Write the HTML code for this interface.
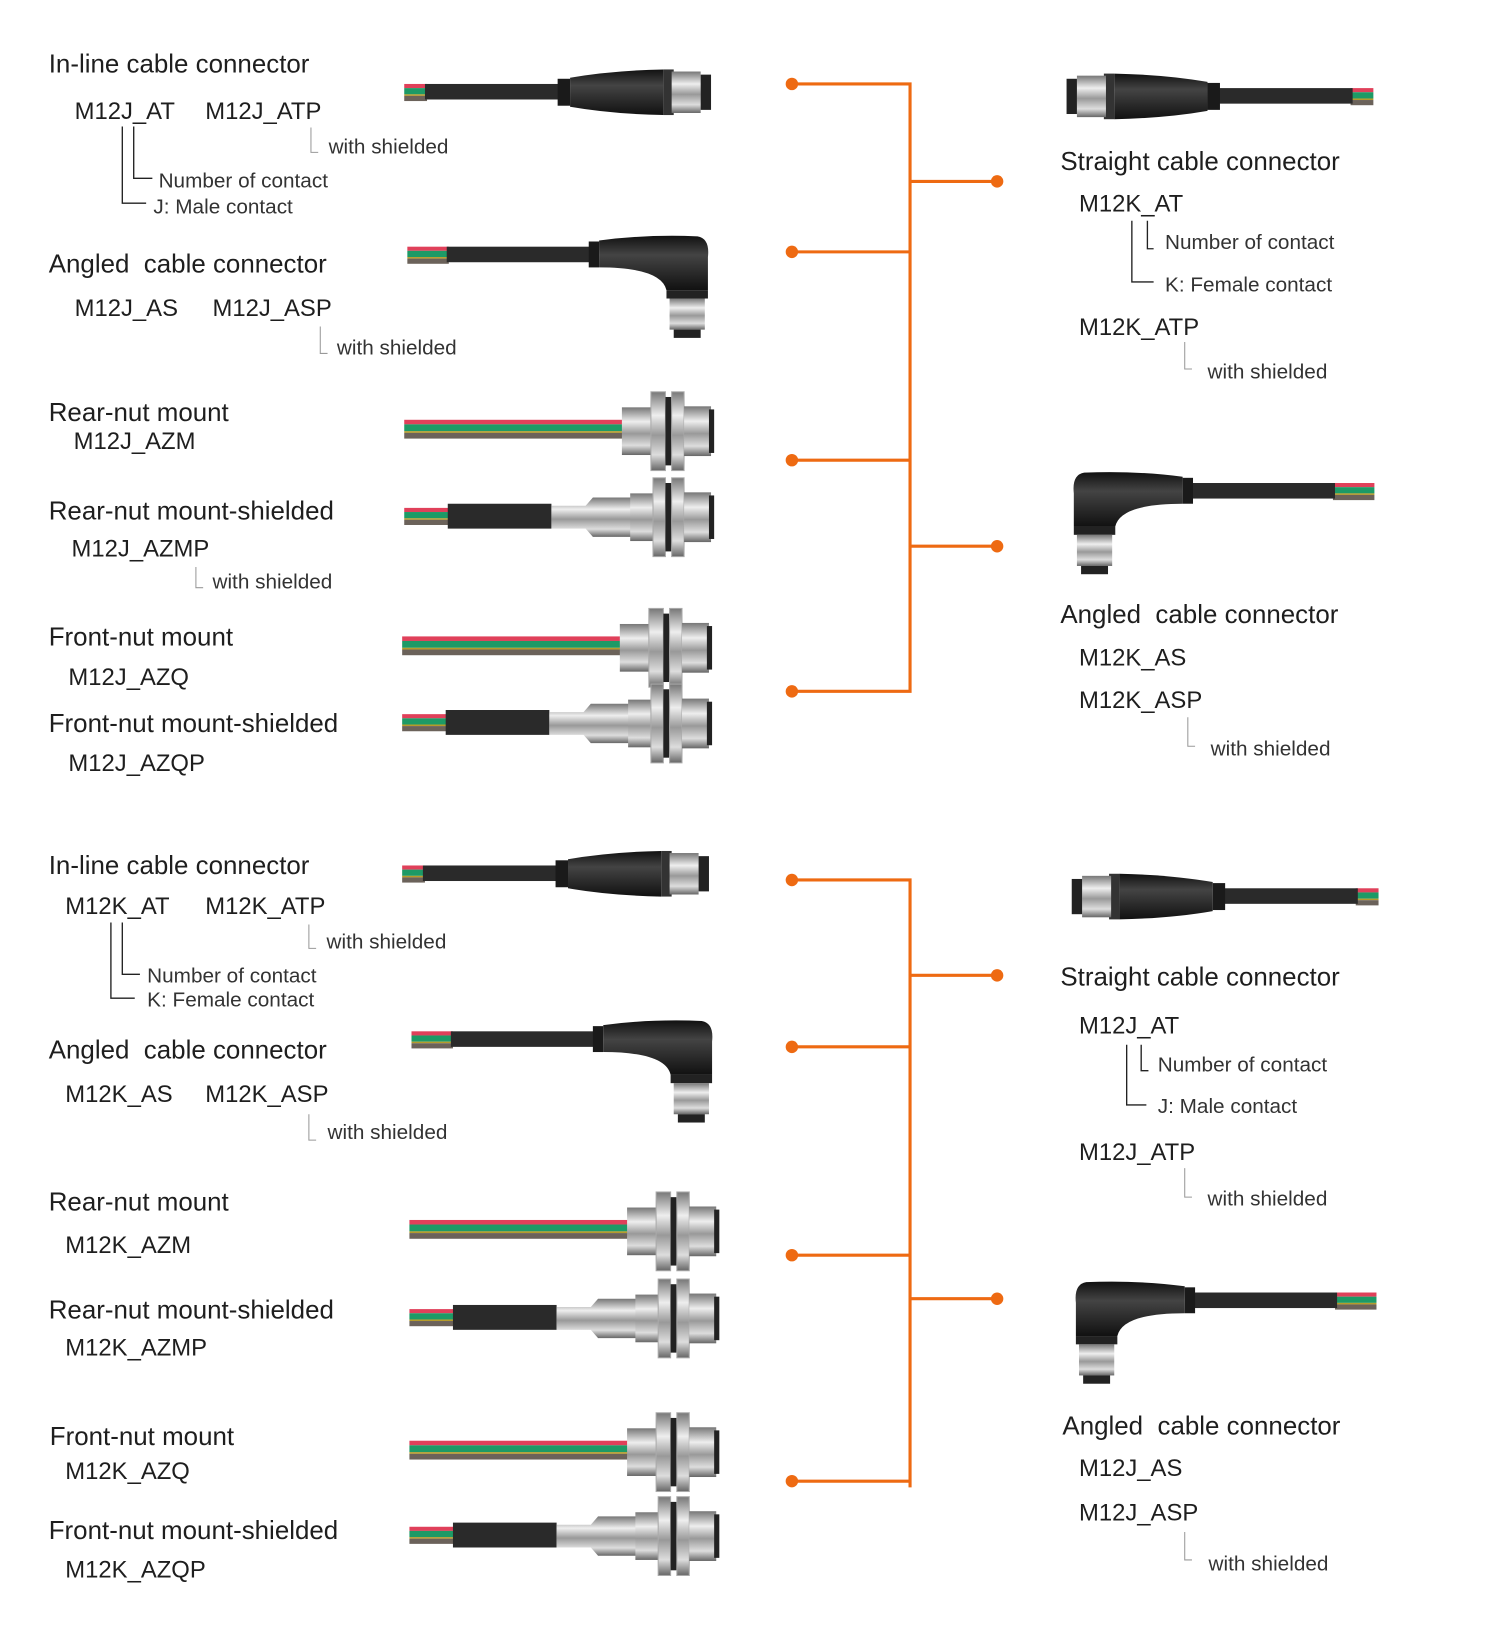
<!DOCTYPE html>
<html><head><meta charset="utf-8"><style>
html,body{margin:0;padding:0;background:#fff;width:1488px;height:1625px;overflow:hidden}
#w{position:absolute;left:0;top:0;width:1440px;height:1573px;transform:scale(1.0365);transform-origin:0 0;font-family:"Liberation Sans",sans-serif;color:#1e1e1e}
.t{position:absolute;white-space:nowrap;line-height:1}
.h{font-size:25px}
.m{font-size:23px}
.s{font-size:20px;color:#333}
svg{position:absolute;left:0;top:0}
</style></head><body><div id="w">
<svg width="1440" height="1573" viewBox="0 0 1440 1573">
<defs>
<linearGradient id="sil" x1="0" y1="0" x2="0" y2="1"><stop offset="0" stop-color="#777"/><stop offset=".3" stop-color="#eee"/><stop offset=".55" stop-color="#999"/><stop offset=".8" stop-color="#ddd"/><stop offset="1" stop-color="#666"/></linearGradient>
<linearGradient id="blk" x1="0" y1="0" x2="0" y2="1"><stop offset="0" stop-color="#111"/><stop offset=".35" stop-color="#444"/><stop offset="1" stop-color="#111"/></linearGradient>
<g id="stripes"><rect x="0" y="0" width="1" height="4" fill="#e0405a"/><rect x="0" y="4" width="1" height="6" fill="#1d9a66"/><rect x="0" y="10" width="1" height="1.5" fill="#b59b2a"/><rect x="0" y="11.5" width="1" height="5" fill="#6b625a"/></g>
<g id="str">
<use href="#stripes" transform="translate(0,15) scale(22,1)"/>
<rect x="20" y="15" width="130" height="15" fill="#2a2a2a"/>
<rect x="148" y="10" width="12" height="26" fill="#1a1a1a"/>
<path d="M160 9 Q200 2 250 1 L250 45 Q200 44 160 37 Z" fill="url(#blk)"/>
<rect x="250" y="1" width="10" height="44" fill="#333"/>
<rect x="258" y="3" width="28" height="40" fill="url(#sil)"/>
<rect x="286" y="6" width="10" height="34" fill="#222"/>
</g>
<g id="ang">
<use href="#stripes" transform="translate(0,10) scale(40,1)"/>
<rect x="38" y="10" width="140" height="15" fill="#2a2a2a"/>
<rect x="175" y="5" width="10" height="25" fill="#1a1a1a"/>
<path d="M185 4 Q230 -2 280 0 Q292 2 290 20 L290 52 L250 52 Q245 30 185 30 Z" fill="url(#blk)"/>
<rect x="250" y="52" width="40" height="8" fill="#222"/>
<rect x="253" y="60" width="34" height="30" fill="url(#sil)"/>
<rect x="257" y="90" width="26" height="8" fill="#222"/>
</g>
<g id="pan">
<use href="#stripes" transform="translate(0,30) scale(212,1.1)"/>
<rect x="210" y="18" width="28" height="46" fill="url(#sil)"/>
<rect x="238" y="3" width="14" height="76" fill="url(#sil)" stroke="#aaa"/>
<rect x="252" y="8" width="6" height="66" fill="#222"/>
<rect x="258" y="3" width="12" height="76" fill="url(#sil)" stroke="#aaa"/>
<rect x="270" y="17" width="26" height="48" fill="url(#sil)"/>
<rect x="294" y="20" width="5" height="42" fill="#222"/>
</g>
<g id="pans">
<use href="#stripes" transform="translate(0,32) scale(45,1)"/>
<rect x="42" y="28" width="100" height="24" fill="#2a2a2a"/>
<path d="M142 30 L175 30 L182 22 L220 22 L220 60 L182 60 L175 52 L142 52 Z" fill="url(#sil)"/>
<rect x="218" y="18" width="22" height="46" fill="url(#sil)"/>
<rect x="240" y="3" width="12" height="76" fill="url(#sil)" stroke="#aaa"/>
<rect x="252" y="8" width="6" height="66" fill="#222"/>
<rect x="258" y="3" width="12" height="76" fill="url(#sil)" stroke="#aaa"/>
<rect x="270" y="17" width="26" height="48" fill="url(#sil)"/>
<rect x="294" y="20" width="5" height="42" fill="#222"/>
</g>
</defs>

<use href="#str" transform="translate(390,66)"/>
<use href="#ang" transform="translate(393,228)"/>
<use href="#pan" transform="translate(390,375)"/>
<use href="#pans" transform="translate(390,458)"/>
<use href="#pan" transform="translate(388,584)"/>
<use href="#pans" transform="translate(388,657)"/>

<use href="#str" transform="translate(388,820)"/>
<use href="#ang" transform="translate(397,985)"/>
<use href="#pan" transform="translate(395,1147)"/>
<use href="#pans" transform="translate(395,1231)"/>
<use href="#pan" transform="translate(395,1360)"/>
<use href="#pans" transform="translate(395,1441)"/>

<use href="#str" transform="translate(1325,70) scale(-1,1)"/>
<use href="#ang" transform="translate(1326,456) scale(-1,1)"/>
<use href="#str" transform="translate(1330,842) scale(-1,1)"/>
<use href="#ang" transform="translate(1328,1237) scale(-1,1)"/>

<g stroke="#ee6a12" stroke-width="3" fill="none">
<path d="M764 81H878V667H764M764 243H878M764 444H878M878 175H962M878 527H962"/>
<path d="M764 849H878V1435M764 1010H878M764 1211H878M764 1429H878M878 941H962M878 1253H962"/>
</g>
<g fill="#ee6a12">
<circle cx="764" cy="81" r="6"/><circle cx="764" cy="243" r="6"/><circle cx="764" cy="444" r="6"/><circle cx="764" cy="667" r="6"/><circle cx="962" cy="175" r="6"/><circle cx="962" cy="527" r="6"/>
<circle cx="764" cy="849" r="6"/><circle cx="764" cy="1010" r="6"/><circle cx="764" cy="1211" r="6"/><circle cx="764" cy="1429" r="6"/><circle cx="962" cy="941" r="6"/><circle cx="962" cy="1253" r="6"/>
</g>
<g stroke="#222" stroke-width="1.3" fill="none">
<path d="M129 122V172H147M118 122V196H141"/>
<path d="M118 890V940H135M107 890V963H130"/>
<path d="M1107 213V240H1113M1092 213V272H1113"/>
<path d="M1101 1008V1033H1108M1087 1008V1066H1106"/>
</g>
<g stroke="#999" stroke-width="1" fill="none">
<path d="M300 123V147H307M309 315V341H316M189 547V567H196M298 892V915H305M298 1075V1100H305M1143 330V356H1150M1146 692V720H1153M1143 1127V1155H1150M1143 1478V1505H1150"/>
</g>
</svg>

<div class="t h" style="left:47px;top:50px">In-line cable connector</div>
<div class="t m" style="left:72px;top:96px">M12J_AT</div>
<div class="t m" style="left:198px;top:96px">M12J_ATP</div>
<div class="t s" style="left:317px;top:132px">with shielded</div>
<div class="t s" style="left:153px;top:165px">Number of contact</div>
<div class="t s" style="left:148px;top:190px">J: Male contact</div>
<div class="t h" style="left:47px;top:243px">Angled&nbsp; cable connector</div>
<div class="t m" style="left:72px;top:286px">M12J_AS</div>
<div class="t m" style="left:205px;top:286px">M12J_ASP</div>
<div class="t s" style="left:325px;top:326px">with shielded</div>
<div class="t h" style="left:47px;top:386px">Rear-nut mount</div>
<div class="t m" style="left:71px;top:414px">M12J_AZM</div>
<div class="t h" style="left:47px;top:481px">Rear-nut mount-shielded</div>
<div class="t m" style="left:69px;top:518px">M12J_AZMP</div>
<div class="t s" style="left:205px;top:552px">with shielded</div>
<div class="t h" style="left:47px;top:603px">Front-nut mount</div>
<div class="t m" style="left:66px;top:642px">M12J_AZQ</div>
<div class="t h" style="left:47px;top:686px">Front-nut mount-shielded</div>
<div class="t m" style="left:66px;top:725px">M12J_AZQP</div>

<div class="t h" style="left:1023px;top:144px">Straight cable connector</div>
<div class="t m" style="left:1041px;top:185px">M12K_AT</div>
<div class="t s" style="left:1124px;top:224px">Number of contact</div>
<div class="t s" style="left:1124px;top:265px">K: Female contact</div>
<div class="t m" style="left:1041px;top:304px">M12K_ATP</div>
<div class="t s" style="left:1165px;top:349px">with shielded</div>
<div class="t h" style="left:1023px;top:581px">Angled&nbsp; cable connector</div>
<div class="t m" style="left:1041px;top:623px">M12K_AS</div>
<div class="t m" style="left:1041px;top:664px">M12K_ASP</div>
<div class="t s" style="left:1168px;top:713px">with shielded</div>

<div class="t h" style="left:47px;top:823px">In-line cable connector</div>
<div class="t m" style="left:63px;top:863px">M12K_AT</div>
<div class="t m" style="left:198px;top:863px">M12K_ATP</div>
<div class="t s" style="left:315px;top:899px">with shielded</div>
<div class="t s" style="left:142px;top:932px">Number of contact</div>
<div class="t s" style="left:142px;top:955px">K: Female contact</div>
<div class="t h" style="left:47px;top:1001px">Angled&nbsp; cable connector</div>
<div class="t m" style="left:63px;top:1044px">M12K_AS</div>
<div class="t m" style="left:198px;top:1044px">M12K_ASP</div>
<div class="t s" style="left:316px;top:1083px">with shielded</div>
<div class="t h" style="left:47px;top:1148px">Rear-nut mount</div>
<div class="t m" style="left:63px;top:1190px">M12K_AZM</div>
<div class="t h" style="left:47px;top:1252px">Rear-nut mount-shielded</div>
<div class="t m" style="left:63px;top:1289px">M12K_AZMP</div>
<div class="t h" style="left:48px;top:1374px">Front-nut mount</div>
<div class="t m" style="left:63px;top:1408px">M12K_AZQ</div>
<div class="t h" style="left:47px;top:1465px">Front-nut mount-shielded</div>
<div class="t m" style="left:63px;top:1503px">M12K_AZQP</div>

<div class="t h" style="left:1023px;top:931px">Straight cable connector</div>
<div class="t m" style="left:1041px;top:978px">M12J_AT</div>
<div class="t s" style="left:1117px;top:1018px">Number of contact</div>
<div class="t s" style="left:1117px;top:1058px">J: Male contact</div>
<div class="t m" style="left:1041px;top:1100px">M12J_ATP</div>
<div class="t s" style="left:1165px;top:1147px">with shielded</div>
<div class="t h" style="left:1025px;top:1364px">Angled&nbsp; cable connector</div>
<div class="t m" style="left:1041px;top:1405px">M12J_AS</div>
<div class="t m" style="left:1041px;top:1448px">M12J_ASP</div>
<div class="t s" style="left:1166px;top:1499px">with shielded</div>
</div></body></html>
